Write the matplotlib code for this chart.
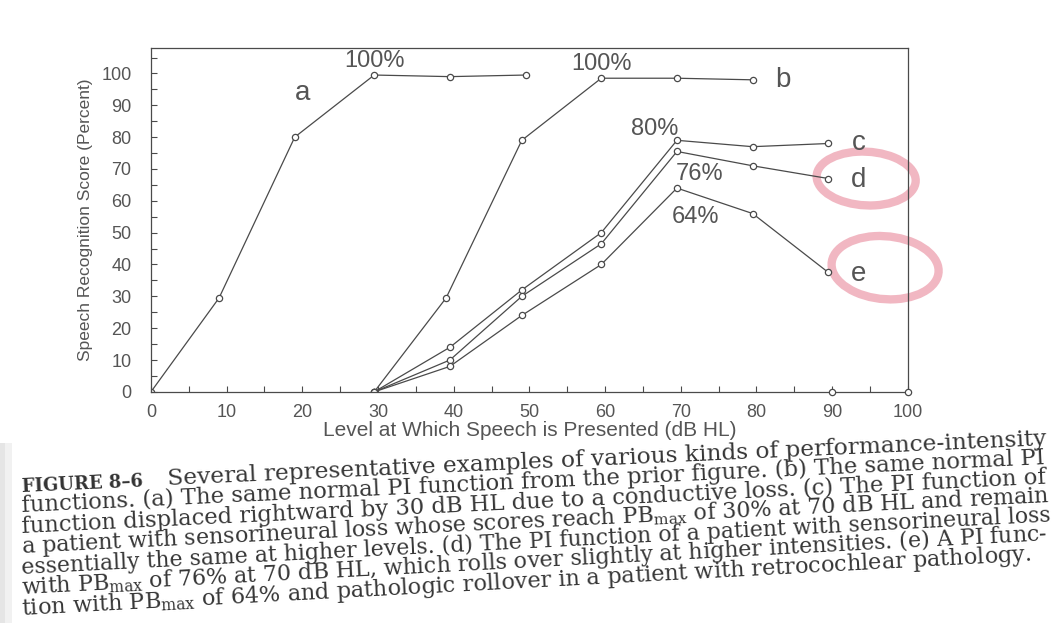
import numpy as np
import matplotlib.pyplot as plt
from matplotlib.patches import Ellipse, Rectangle

plt.rcParams['font.family'] = ['Liberation Sans', 'DejaVu Sans']
plt.rcParams['mathtext.fontset'] = 'custom'
plt.rcParams['mathtext.rm'] = 'DejaVu Serif'

# PI functions (level in dB HL, score in percent)
a_x = [0, 9, 19, 29.5, 39.5, 49.5]
a_y = [0, 29.5, 80, 99.5, 99, 99.5]
b_x = [29.5, 39, 49, 59.5, 69.5, 79.5]
b_y = [0, 29.5, 79, 98.5, 98.5, 98]
cde_x = [29.5, 39.5, 49, 59.5, 69.5, 79.5, 89.5]
c_y = [0, 14, 32, 50, 79, 77, 78]
d_y = [0, 10, 30, 46.5, 75.5, 71, 67]
e_y = [0, 8, 24, 40, 64, 56, 37.5]
axis_pts_x = [90, 100]
axis_pts_y = [0, 0]

curve_names = ['a', 'b', 'c', 'd', 'e']
name_x = [20, 83.5, 93.5, 93.5, 93.5]
name_y = [94, 98, 78, 66.5, 37]
peak_text = ['100%', '100%', '80%', '76%', '64%']
peak_x = [29.5, 59.5, 66.5, 72.5, 72]
peak_y = [104, 103, 82.5, 68.5, 55]

# hand-drawn red rings around d and e
ring_x = [94.5, 97]
ring_y = [67, 39]
ring_w = [13, 14]
ring_h = [17, 20]

caption_head = 'FIGURE 8–6'
caption = [
    'Several representative examples of various kinds of performance-intensity',
    'functions. (a) The same normal PI function from the prior figure. (b) The same normal PI',
    'function displaced rightward by 30 dB HL due to a conductive loss. (c) The PI function of',
    r'a patient with sensorineural loss whose scores reach PB$_{\mathrm{max}}$ of 30% at 70 dB HL and remain',
    'essentially the same at higher levels. (d) The PI function of a patient with sensorineural loss',
    r'with PB$_{\mathrm{max}}$ of 76% at 70 dB HL, which rolls over slightly at higher intensities. (e) A PI func-',
    r'tion with PB$_{\mathrm{max}}$ of 64% and pathologic rollover in a patient with retrocochlear pathology.',
]
# justified line widths in the scan (pixels)
caption_width = [880, 1030, 1030, 1030, 1030, 1030, 1015]

ink = '#4a4a4a'
W, H = 1063, 623
fig = plt.figure(figsize=(W / 100, H / 100), dpi=100)
ax = fig.add_axes([0.142, 0.371, 0.712, 0.552])

style = dict(color=ink, lw=0.9, marker='o', ms=4.5, mfc='white', mec=ink, mew=0.9)
ax.plot(a_x, a_y, **style)
ax.plot(b_x, b_y, **style)
ax.plot(cde_x, c_y, **style)
ax.plot(cde_x, d_y, **style)
ax.plot(cde_x, e_y, **style)
ax.plot(axis_pts_x, axis_pts_y, ls='none', marker='o', ms=4.5, mfc='white',
        mec=ink, mew=0.9, clip_on=False, zorder=5)

for t, x, y in zip(curve_names, name_x, name_y):
    ax.text(x, y, t, fontsize=20, color='#555555', ha='center', va='center')
for t, x, y in zip(peak_text, peak_x, peak_y):
    ax.text(x, y, t, fontsize=17, color='#555555', ha='center', va='center')

for x, y, w, h in zip(ring_x, ring_y, ring_w, ring_h):
    ax.add_patch(Ellipse((x, y), w, h, angle=8, fill=False, ec='#e8889a',
                         lw=6, alpha=0.6, clip_on=False))

ax.set_xlim(0, 100)
ax.set_ylim(0, 108)
ax.set_xticks(np.arange(0, 101, 10))
ax.set_yticks(np.arange(0, 101, 10))
ax.set_xticks(np.arange(0, 101, 5), minor=True)
ax.set_yticks(np.arange(0, 106, 5), minor=True)
ax.tick_params(which='both', direction='in', length=4, width=0.8, color=ink,
               labelsize=13, labelcolor='#555555', pad=9)
ax.tick_params(axis='y', pad=14)
for s in ax.spines.values():
    s.set_color(ink)
    s.set_linewidth(0.9)

ax.set_xlabel('Level at Which Speech is Presented (dB HL)', fontsize=15,
              color='#555555', labelpad=0)
ax.set_ylabel('Speech Recognition Score (Percent)', fontsize=12.5,
              color='#555555', labelpad=6)

# page shadow at the left edge of the scan
fig.add_artist(Rectangle((0, 0), 5 / W, 180 / H, transform=fig.transFigure,
                         color='#d4d4d4', alpha=0.6, lw=0))
fig.add_artist(Rectangle((5 / W, 0), 7 / W, 180 / H, transform=fig.transFigure,
                         color='#e8e8e8', alpha=0.6, lw=0))

# caption, slightly tilted like the scanned page; each line stretched to
# the justified width it has in the book
renderer = fig.canvas.get_renderer()
x0, y0, step = 22, 492, 20.5
ang0 = 2.6
fig.text(x0 / W, 1 - y0 / H, caption_head, family='DejaVu Serif',
         fontsize=13, fontweight='bold', color='#333333', rotation=ang0,
         rotation_mode='anchor', ha='left', va='baseline')
for i, (line, width) in enumerate(zip(caption, caption_width)):
    ang = ang0 + 0.08 * i
    tan = np.tan(np.radians(ang))
    shift = 146 if i == 0 else 0
    xs = x0 + shift
    ys = y0 + step * i - shift * tan
    t = fig.text(xs / W, 1 - ys / H, line, family='DejaVu Serif', fontsize=16,
                 color='#363636', rotation_mode='anchor',
                 ha='left', va='baseline')
    natural = t.get_window_extent(renderer).width
    t.set_fontsize(16 * width / natural)
    t.set_rotation(ang)

fig.savefig('out.png', dpi=100, facecolor='white')
